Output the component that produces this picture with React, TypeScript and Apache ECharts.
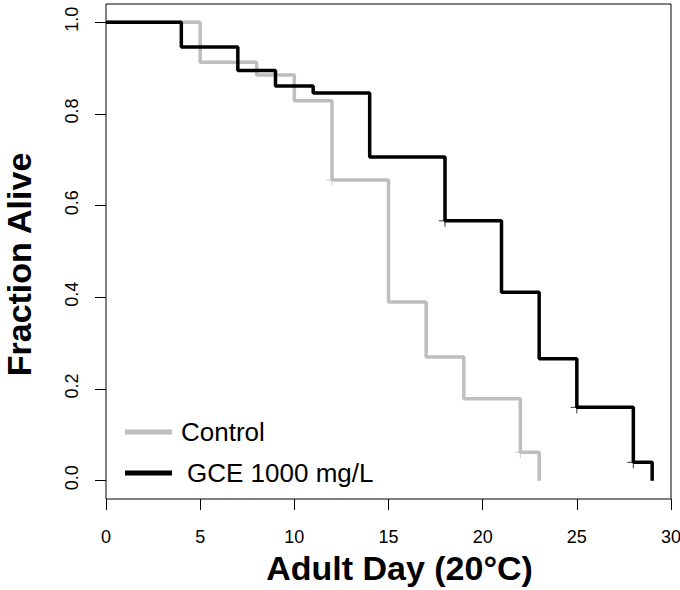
import React, { useEffect, useRef } from "react";
import * as echarts from "echarts";

const controlDays = [0, 5, 8, 10, 12, 15, 17, 19, 22, 23];
const controlSurv = [1, 0.913, 0.885, 0.829, 0.656, 0.39, 0.27, 0.179, 0.062, 0];
const controlCensorDays = [12, 22];
const controlCensorSurv = [0.656, 0.062];

const gceDays = [0, 4, 7, 9, 11, 14, 18, 21, 23, 25, 28, 29];
const gceSurv = [1, 0.946, 0.895, 0.861, 0.846, 0.706, 0.567, 0.411, 0.266, 0.16, 0.04, 0];
const gceCensorDays = [18, 25, 28];
const gceCensorSurv = [0.567, 0.16, 0.04];

const yTicks = [0, 0.2, 0.4, 0.6, 0.8, 1.0];

const FONT = "'Liberation Sans', Arial, Helvetica, sans-serif";
const GRAY = "#bebebe";
const BLACK = "#000000";
const PLUS = "path://M0,6H12M6,0V12";

export default function App() {
  const ref = useRef<HTMLDivElement>(null);
  useEffect(() => {
    if (!ref.current) return;
    const chart = echarts.init(ref.current, null, { renderer: "svg" });
    const pair = (xs: number[], ys: number[]) => xs.map((x, i) => [x, ys[i]]);
    chart.setOption({
      animation: false,
      backgroundColor: "#ffffff",
      textStyle: { fontFamily: FONT },
      grid: {
        left: 106,
        right: 9,
        top: 4,
        bottom: 91,
        show: true,
        borderColor: "#000",
        borderWidth: 1,
        backgroundColor: "transparent",
        containLabel: false,
        outerBoundsMode: "none",
      },
      legend: {
        orient: "vertical",
        left: 120,
        top: 414,
        itemWidth: 47,
        itemHeight: 5,
        itemGap: 15,
        selectedMode: false,
        textStyle: { fontFamily: FONT, fontSize: 26, color: "#000" },
        data: [
          { name: "Control", icon: "rect", textStyle: { padding: [0, 0, 0, 4] } },
          { name: "GCE 1000 mg/L", icon: "rect", textStyle: { padding: [0, 0, 0, 10] } },
        ],
      },
      xAxis: {
        type: "value",
        min: 0,
        max: 30,
        interval: 5,
        name: "Adult Day (20°C)",
        nameLocation: "middle",
        nameGap: 52,
        nameTextStyle: {
          fontFamily: FONT,
          fontSize: 34,
          fontWeight: "bold",
          color: "#000",
          padding: [0, 0, 0, 22],
        },
        axisLine: { show: false, onZero: false },
        axisTick: { show: true, length: 11, lineStyle: { color: "#000", width: 1 } },
        axisLabel: { fontSize: 18, color: "#000", margin: 29, fontFamily: FONT },
        splitLine: { show: false },
      },
      yAxis: {
        type: "value",
        min: -0.04,
        max: 1.04,
        name: "Fraction Alive",
        nameLocation: "middle",
        nameGap: 70,
        nameTextStyle: {
          fontFamily: FONT,
          fontSize: 34,
          fontWeight: "bold",
          color: "#000",
          padding: [0, 26, 0, 0],
        },
        axisLine: { show: false, onZero: false },
        axisTick: {
          show: true,
          length: 11,
          lineStyle: { color: "#000", width: 1 },
          customValues: yTicks,
        },
        axisLabel: {
          fontSize: 18,
          color: "#000",
          margin: 25,
          rotate: 90,
          fontFamily: FONT,
          customValues: yTicks,
          padding: [0, 0, 0, 6],
          formatter: (v: number) => v.toFixed(1),
        },
        splitLine: { show: false },
      },
      series: [
        {
          name: "Control",
          type: "line",
          step: "end",
          color: GRAY,
          showSymbol: false,
          symbol: "none",
          lineStyle: { color: GRAY, width: 3.5 },
          data: pair(controlDays, controlSurv),
          z: 2,
        },
        {
          name: "GCE 1000 mg/L",
          type: "line",
          step: "end",
          color: BLACK,
          showSymbol: false,
          symbol: "none",
          lineStyle: { color: BLACK, width: 3.5 },
          data: pair(gceDays, gceSurv),
          z: 3,
        },
        {
          name: "Control censored",
          type: "scatter",
          symbol: PLUS,
          symbolSize: 12,
          itemStyle: { color: "transparent", borderColor: GRAY, borderWidth: 1 },
          data: pair(controlCensorDays, controlCensorSurv),
          z: 4,
        },
        {
          name: "GCE censored",
          type: "scatter",
          symbol: PLUS,
          symbolSize: 12,
          itemStyle: { color: "transparent", borderColor: BLACK, borderWidth: 1 },
          data: pair(gceCensorDays, gceCensorSurv),
          z: 5,
        },
      ],
    });
    return () => chart.dispose();
  }, []);
  return (
    <div
      ref={ref}
      style={{ position: "fixed", left: 0, top: 0, width: 680, height: 590, background: "#fff" }}
    />
  );
}
